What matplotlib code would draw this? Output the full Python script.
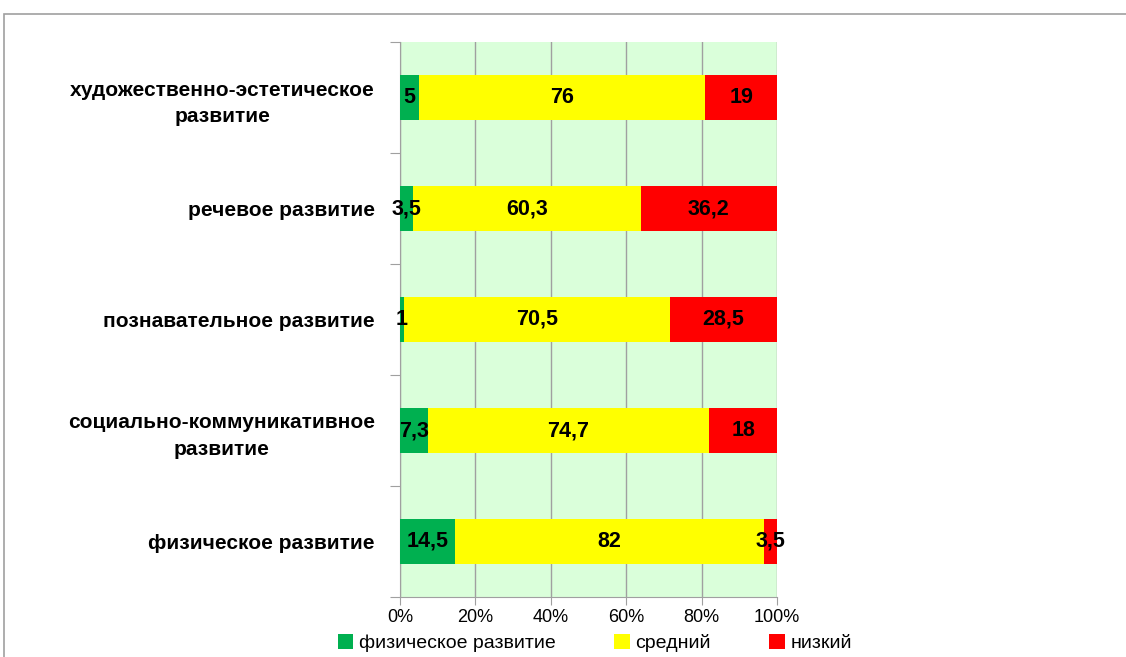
import matplotlib
matplotlib.use("Agg")
import matplotlib.pyplot as plt
from matplotlib.patches import Rectangle
import numpy as np

categories = ["физическое развитие", "социально-коммуникативное\nразвитие",
              "познавательное развитие", "речевое развитие",
              "художественно-эстетическое\nразвитие"]
high = [14.5, 7.3, 1, 3.5, 5]
mid = [82, 74.7, 70.5, 60.3, 76]
low = [3.5, 18, 28.5, 36.2, 19]
series_names = ["физическое развитие", "средний", "низкий"]
colors = ["#00B050", "#FFFF00", "#FF0000"]
xticklabels = ["0%", "20%", "40%", "60%", "80%", "100%"]

def fmt(v):
    s = ("%g" % v).replace(".", ",")
    return s

plt.rcParams['font.family'] = ['Liberation Sans', 'DejaVu Sans']

fig = plt.figure(figsize=(11.26, 6.57), dpi=100)
fig.patches.append(Rectangle((4/1126, -0.1), 1.2, (657-14)/657 + 0.1, transform=fig.transFigure,
                             fill=False, edgecolor="#A0A0A0", linewidth=1.2))
ax = fig.add_axes([400/1126, 60/657, 377/1126, 555/657])
ax.set_facecolor("#DAFFDA")

y = np.arange(len(categories))
left = np.zeros(len(categories))
data = [high, mid, low]
for vals, c, name in zip(data, colors, series_names):
    bars = ax.barh(y, vals, left=left, height=0.41, color=c, label=name, zorder=3)
    for yi, l, v in zip(y, left, vals):
        ax.text(l + v/2, yi, fmt(v), ha="center", va="center", fontsize=15.5,
                fontweight="bold", color="black", zorder=4)
    left = left + np.array(vals)

ax.set_xlim(0, 100)
ax.set_ylim(-0.5, len(categories) - 0.5)
ax.set_xticks(np.arange(0, 101, 20))
ax.set_xticklabels(xticklabels, fontsize=13)
ax.set_yticks(np.arange(-0.5, len(categories), 1))
ax.set_yticklabels([])
ax.set_yticks(y, minor=True)
ax.set_yticklabels(categories, minor=True, fontsize=15, fontweight="bold",
                   multialignment="center", linespacing=1.5)
ax.tick_params(axis="y", which="minor", length=0, pad=18)
ax.tick_params(axis="y", which="major", length=7, color="#A0A0A0")
ax.tick_params(axis="x", length=6, color="#A0A0A0", pad=3)
ax.grid(axis="x", color="#A0A0A0", linewidth=1, zorder=1)
for s in ["top", "right"]:
    ax.spines[s].set_visible(False)
for s in ["left", "bottom"]:
    ax.spines[s].set_color("#A0A0A0")

fig.legend(loc="center", bbox_to_anchor=(595/1126, 1 - 643/657), ncol=3, frameon=False,
           fontsize=14, handlelength=0.8, handleheight=0.8, columnspacing=3.0,
           handletextpad=0.3, borderpad=0.1)

fig.savefig("out.png", dpi=100)
